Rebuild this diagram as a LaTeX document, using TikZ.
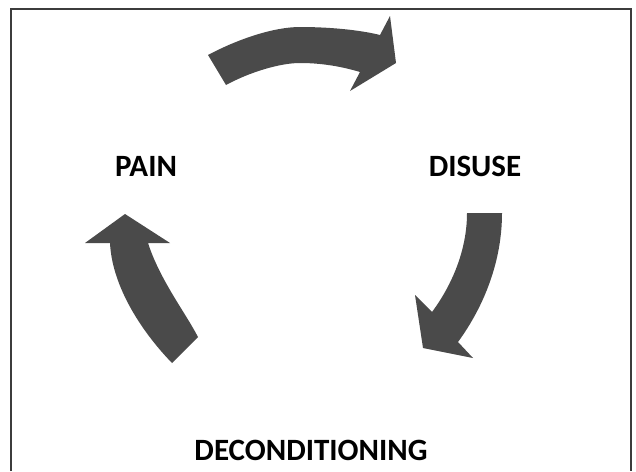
\documentclass[tikz,border=0pt]{standalone}
\usepackage{fontspec}
\setmainfont{Carlito}
\definecolor{arrowgray}{HTML}{4A4A4A}
\definecolor{framegray}{HTML}{3C3C3C}
\tikzset{
  word/.style={font=\fontsize{31}{33}\selectfont\bfseries, inner sep=0pt},
  bigarrow/.style={fill=arrowgray}
}

\begin{document}
\begin{tikzpicture}[x=1pt,y=-1pt]
\useasboundingbox (0,0) rectangle (636,471);
\draw[framegray, line width=1.5pt] (11,471) -- (11,9) -- (631,9) -- (631,471);

% top arrow
\fill[bigarrow] (208,55) .. controls (240,38) and (275,27) .. (300,27)
  .. controls (330,27) and (360,30) .. (380,35) -- (390,16) -- (396,63)
  -- (350,91) -- (360,72) .. controls (340,66) and (320,63) .. (300,63)
  .. controls (280,63) and (250,72) .. (226,85) -- cycle;
% right arrow
\fill[bigarrow] (467,213) -- (502,213) .. controls (502,260) and (485,305) .. (458,342)
  -- (473,358) -- (423,348) -- (415,295) -- (432,312)
  .. controls (452,285) and (467,250) .. (467,213) -- cycle;
% left arrow
\fill[bigarrow] (172,363) -- (198,337) .. controls (185,312) and (160,280) .. (148,243)
  -- (170,243) -- (125,214) -- (85,243) -- (110,243)
  .. controls (112,285) and (140,330) .. (172,363) -- cycle;

\node[word] (pain) at (146,166) {PAIN};
\node[word] (disuse) at (475,166) {DISUSE};
\node[word] (decond) at (311,450) {DECONDITIONING};
\end{tikzpicture}
\end{document}
